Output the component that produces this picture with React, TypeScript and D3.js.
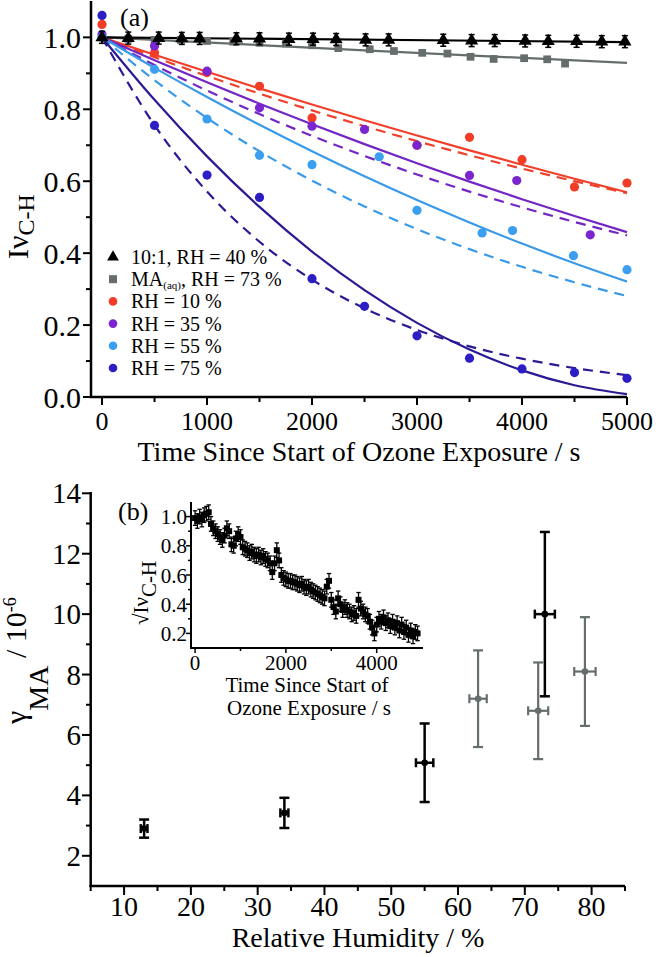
import React from 'react';
import * as d3 from 'd3';

const FONT = 'Liberation Serif, Times New Roman, DejaVu Serif, serif';

// ---------- Panel (a) data ----------
const fitT = [0, 500, 1000, 1500, 2000, 2500, 3000, 3500, 4000, 4500, 5000];
const redFit = [1, 0.9515, 0.9042, 0.8581, 0.8132, 0.7696, 0.7271, 0.6858, 0.6458, 0.6069, 0.5693];
const redFitDash = [1, 0.9448, 0.8927, 0.8435, 0.7969, 0.753, 0.7114, 0.6722, 0.6351, 0.6001, 0.567];
const purpleFit = [1, 0.9364, 0.875, 0.8156, 0.7583, 0.7031, 0.65, 0.5989, 0.55, 0.5031, 0.4583];
const purpleFitDash = [1, 0.9231, 0.8521, 0.7866, 0.7261, 0.6703, 0.6188, 0.5712, 0.5273, 0.4868, 0.4493];
const lblueFit = [1, 0.9152, 0.8341, 0.7568, 0.6833, 0.6135, 0.5475, 0.4852, 0.4267, 0.3719, 0.3209];
const lblueFitDash = [1, 0.8807, 0.7757, 0.6832, 0.6017, 0.5299, 0.4667, 0.4111, 0.362, 0.3189, 0.2808];
const dblueFit = [1, 0.8263, 0.6691, 0.5285, 0.4045, 0.297, 0.2061, 0.1318, 0.074, 0.0328, 0.0081];
const dblueFitDash = [1, 0.7558, 0.5712, 0.4317, 0.3263, 0.2466, 0.1864, 0.1409, 0.1065, 0.0805, 0.0608];
const grayFitT = [0, 2500, 5000];
const grayFit = [1, 0.964, 0.929];
const blackFitT = [0, 5000];
const blackFit = [1, 0.987];

const blackT = [0, 250, 540, 760, 930, 1280, 1500, 1780, 2010, 2230, 2510, 2730, 3250, 3520, 3740, 4030, 4250, 4520, 4760, 4980];
const blackV = [1.0, 0.998, 0.998, 0.997, 0.997, 0.996, 0.996, 0.995, 0.995, 0.994, 0.993, 0.993, 0.992, 0.991, 0.991, 0.99, 0.989, 0.989, 0.988, 0.988];
const grayT = [0, 250, 500, 750, 1000, 1250, 1500, 1750, 2000, 2250, 2550, 2780, 3050, 3290, 3510, 3730, 4020, 4240, 4410];
const grayV = [1.0, 0.996, 0.993, 0.993, 0.99, 0.988, 0.985, 0.983, 0.978, 0.97, 0.967, 0.962, 0.957, 0.955, 0.946, 0.94, 0.942, 0.939, 0.927];
const redT = [0, 500, 1000, 1500, 2000, 3000, 3500, 4000, 4500, 5000];
const redV = [1.036, 0.957, 0.902, 0.864, 0.776, 0.7, 0.722, 0.66, 0.584, 0.595];
const purpleT = [0, 500, 1000, 1500, 2000, 2500, 3000, 3500, 3950, 4650];
const purpleV = [1.008, 0.976, 0.906, 0.804, 0.753, 0.744, 0.7, 0.616, 0.602, 0.451];
const lblueT = [0, 500, 1000, 1500, 2000, 2640, 3000, 3620, 3910, 4490, 5000];
const lblueV = [1.0, 0.911, 0.773, 0.672, 0.646, 0.668, 0.519, 0.456, 0.463, 0.393, 0.354];
const dblueT = [0, 500, 1000, 1500, 2000, 2500, 3000, 3500, 4000, 4500, 5000];
const dblueV = [1.061, 0.755, 0.617, 0.555, 0.329, 0.252, 0.17, 0.108, 0.078, 0.068, 0.052];

const aXTicks = [0, 1000, 2000, 3000, 4000, 5000];
const aXMinor = [500, 1500, 2500, 3500, 4500];
const aYTicks = [0, 0.2, 0.4, 0.6, 0.8, 1.0];
const aYMinor = [0.1, 0.3, 0.5, 0.7, 0.9];

const legendLabels = ['10:1, RH = 40 %', 'MA(aq), RH = 73 %', 'RH = 10 %', 'RH = 35 %', 'RH = 55 %', 'RH = 75 %'];

// ---------- Panel (b) data ----------
const rhBlack = [13, 34, 55, 73];
const gammaBlack = [2.9, 3.42, 5.08, 10.0];
const gammaBlackErr = [0.3, 0.5, 1.3, 2.72];
const rhBlackErr = [0.5, 0.6, 1.3, 1.5];
const rhGray = [63, 72, 79];
const gammaGray = [7.2, 6.8, 8.1];
const gammaGrayErr = [1.6, 1.6, 1.8];
const rhGrayErr = [1.3, 1.5, 1.6];

const bXTicks = [10, 20, 30, 40, 50, 60, 70, 80];
const bXMinor = [5, 15, 25, 35, 45, 55, 65, 75, 85];
const bYTicks = [2, 4, 6, 8, 10, 12, 14];
const bYMinor = [3, 5, 7, 9, 11, 13];

// inset
const insetT = [0, 50, 100, 150, 200, 250, 300, 350, 400, 450, 500, 550, 600, 650, 700, 750, 800, 850, 900, 950,
  1000, 1050, 1100, 1150, 1200, 1250, 1300, 1350, 1400, 1450, 1500, 1550, 1600, 1650, 1700, 1750, 1800, 1850, 1900, 1950,
  2000, 2050, 2100, 2150, 2200, 2250, 2300, 2350, 2400, 2450, 2500, 2550, 2600, 2650, 2700, 2750, 2800, 2850, 2900, 2950,
  3000, 3050, 3100, 3150, 3200, 3250, 3300, 3350, 3400, 3450, 3500, 3550, 3600, 3650, 3700, 3750, 3800, 3850, 3900, 3950,
  4000, 4050, 4100, 4150, 4200, 4250, 4300, 4350, 4400, 4450, 4500, 4550, 4600, 4650, 4700, 4750, 4800, 4850, 4900];
const insetV = [0.99, 0.97, 1.0, 0.98, 1.01, 1.02, 1.03, 0.95, 0.92, 0.9, 0.88, 0.86, 0.84, 0.87, 0.92, 0.9, 0.81, 0.8, 0.85, 0.88,
  0.86, 0.79, 0.78, 0.77, 0.75, 0.76, 0.74, 0.73, 0.74, 0.72, 0.73, 0.71, 0.7, 0.68, 0.62, 0.68, 0.77, 0.7, 0.6, 0.58,
  0.57, 0.56, 0.56, 0.55, 0.55, 0.54, 0.53, 0.54, 0.52, 0.51, 0.52, 0.5, 0.49, 0.48, 0.47, 0.46, 0.45, 0.44, 0.52, 0.56,
  0.43, 0.38, 0.35, 0.44, 0.4, 0.36, 0.38, 0.36, 0.35, 0.33, 0.34, 0.32, 0.43, 0.37, 0.35, 0.33, 0.32, 0.28, 0.24, 0.2,
  0.26, 0.3, 0.28, 0.31, 0.27, 0.29, 0.25, 0.28, 0.24, 0.27, 0.22, 0.26, 0.21, 0.24, 0.19, 0.22, 0.18, 0.21, 0.2];
const insetErr = 0.05;
const iXTicks = [0, 2000, 4000];
const iXMinor = [1000, 3000];
const iYTicks = [0.2, 0.4, 0.6, 0.8, 1.0];
const iYMinor = [0.3, 0.5, 0.7, 0.9];

const C = {
  red: '#f23d26', redL: '#f0402a',
  purple: '#7b25d0', purpleL: '#7326c4',
  lblue: '#3a9ff0', lblueL: '#3a9ae8',
  dblue: '#2c1dc4', dblueL: '#2a1a94',
  gray: '#656d6d', black: '#000',
};

const fmt1 = (v: number) => v.toFixed(1);

export default function App() {
  // panel a scales
  const xA = d3.scaleLinear().domain([-105, 5000]).range([91, 627]);
  const yA = d3.scaleLinear().domain([0, 1.1]).range([397, 1.4]);
  const lineA = d3.line<number>().curve(d3.curveMonotoneX);
  const mkLine = (ts: number[], vs: number[]) =>
    lineA.x((_, i) => xA(ts[i])).y((v) => yA(v))(vs) || '';

  // panel b scales
  const xB = d3.scaleLinear().domain([5, 85]).range([90.7, 625]);
  const yB = d3.scaleLinear().domain([1, 14]).range([886, 493.3]);

  // inset scales
  const xI = d3.scaleLinear().domain([-90, 5020]).range([191, 423]);
  const yI = d3.scaleLinear().domain([0.1, 1.1]).range([648, 502]);

  const tri = d3.symbol().type(d3.symbolTriangle).size(75)() || '';
  const sq = d3.symbol().type(d3.symbolSquare).size(60)() || '';

  const fitLines: [number[], number[], string, boolean][] = [
    [fitT, redFit, C.redL, false], [fitT, redFitDash, C.redL, true],
    [fitT, purpleFit, C.purpleL, false], [fitT, purpleFitDash, C.purpleL, true],
    [fitT, lblueFit, C.lblueL, false], [fitT, lblueFitDash, C.lblueL, true],
    [fitT, dblueFit, C.dblueL, false], [fitT, dblueFitDash, C.dblueL, true],
    [grayFitT, grayFit, C.gray, false], [blackFitT, blackFit, C.black, false],
  ];
  const circleSeries: [number[], number[], string][] = [
    [redT, redV, C.red], [purpleT, purpleV, C.purple], [lblueT, lblueV, C.lblue], [dblueT, dblueV, C.dblue],
  ];

  const legendColors = [C.black, C.gray, C.red, C.purple, C.lblue, C.dblue];

  const errBar = (x: number, y: number, xe: number, ye: number, color: string, sw: number, key: string) => {
    const cx = xB(x), cy = yB(y);
    const y1 = yB(y + ye), y2 = yB(y - ye);
    const x1 = xB(x - xe), x2 = xB(x + xe);
    return (
      <g key={key} stroke={color} strokeWidth={sw} fill={color}>
        <line x1={cx} x2={cx} y1={y1} y2={y2} />
        <line x1={cx - 5} x2={cx + 5} y1={y1} y2={y1} />
        <line x1={cx - 5} x2={cx + 5} y1={y2} y2={y2} />
        <line x1={x1} x2={x2} y1={cy} y2={cy} />
        <line x1={x1} x2={x1} y1={cy - 4.5} y2={cy + 4.5} />
        <line x1={x2} x2={x2} y1={cy - 4.5} y2={cy + 4.5} />
        <circle cx={cx} cy={cy} r={3.3} stroke="none" />
      </g>
    );
  };

  return (
    <svg width={661} height={957} style={{ position: 'absolute', left: 0, top: 0, background: '#fff', fontFamily: FONT }}>
      <rect width={661} height={957} fill="#fff" />
      {/* ===== Panel (a) ===== */}
      <g>
        {fitLines.map(([ts, vs, col, dash], i) => (
          <path key={'fl' + i} d={mkLine(ts, vs)} fill="none" stroke={col} strokeWidth={2.2}
            strokeDasharray={dash ? '10,7' : undefined} />
        ))}
        {grayT.map((t, i) => (
          <path key={'gs' + i} d={sq} transform={`translate(${xA(t)},${yA(grayV[i])})`} fill={C.gray} />
        ))}
        {circleSeries.map(([ts, vs, col], s) =>
          ts.map((t, i) => (
            <circle key={`c${s}-${i}`} cx={xA(t)} cy={yA(vs[i])} r={4.6} fill={col} />
          ))
        )}
        {blackT.map((t, i) => (
          <g key={'bt' + i} transform={`translate(${xA(t)},${yA(blackV[i])})`}>
            <line y1={-6} y2={6} stroke="#000" strokeWidth={2} />
            <line x1={-3} x2={3} y1={-6} y2={-6} stroke="#000" strokeWidth={1.5} />
            <line x1={-3} x2={3} y1={6} y2={6} stroke="#000" strokeWidth={1.5} />
            <path d={tri} fill="#000" />
          </g>
        ))}
        {/* axes */}
        <line x1={91} x2={91} y1={1} y2={398} stroke="#000" strokeWidth={2.5} />
        <line x1={90} x2={627} y1={397} y2={397} stroke="#000" strokeWidth={2.5} />
        {aYTicks.map((v) => (
          <g key={'ay' + v}>
            <line x1={83} x2={91} y1={yA(v)} y2={yA(v)} stroke="#000" strokeWidth={2} />
            <text x={81} y={yA(v) + 10.5} fontSize={30} textAnchor="end">{fmt1(v)}</text>
          </g>
        ))}
        {aYMinor.map((v) => (
          <line key={'aym' + v} x1={86} x2={91} y1={yA(v)} y2={yA(v)} stroke="#000" strokeWidth={2} />
        ))}
        {aXTicks.map((v) => (
          <g key={'ax' + v}>
            <line x1={xA(v)} x2={xA(v)} y1={397} y2={405} stroke="#000" strokeWidth={2} />
            <text x={xA(v)} y={430} fontSize={26} textAnchor="middle">{v}</text>
          </g>
        ))}
        {aXMinor.map((v) => (
          <line key={'axm' + v} x1={xA(v)} x2={xA(v)} y1={397} y2={402} stroke="#000" strokeWidth={2} />
        ))}
        <text x={359} y={461} fontSize={28} textAnchor="middle">Time Since Start of Ozone Exposure / s</text>
        <text transform="translate(28,259) rotate(-90)" fontSize={30}>
          Iν<tspan fontSize={24} dy={6}>C-H</tspan>
        </text>
        <text x={120} y={26} fontSize={26}>(a)</text>
        {/* legend */}
        {legendLabels.map((lab, i) => {
          const cy = 257 + i * 22.2;
          const col = legendColors[i];
          let sym;
          if (i === 0) sym = <path d={d3.symbol().type(d3.symbolTriangle).size(60)() || ''} transform={`translate(113,${cy})`} fill={col} />;
          else if (i === 1) sym = <rect x={109} y={cy - 4} width={8} height={8} fill={col} />;
          else sym = <circle cx={113} cy={cy} r={4.3} fill={col} />;
          return (
            <g key={'lg' + i}>
              {sym}
              {i === 1 ? (
                <text x={131} y={cy + 7} fontSize={20}>
                  MA<tspan fontSize={11} dy={3}>(aq)</tspan><tspan dy={-3}>, RH = 73 %</tspan>
                </text>
              ) : (
                <text x={131} y={cy + 7} fontSize={20}>{lab}</text>
              )}
            </g>
          );
        })}
      </g>

      {/* ===== Panel (b) ===== */}
      <g>
        <line x1={90.7} x2={90.7} y1={492} y2={887} stroke="#000" strokeWidth={2.5} />
        <line x1={89.5} x2={625} y1={886} y2={886} stroke="#000" strokeWidth={2.5} />
        {bYTicks.map((v) => (
          <g key={'by' + v}>
            <line x1={82} x2={91} y1={yB(v)} y2={yB(v)} stroke="#000" strokeWidth={2} />
            <text x={81} y={yB(v) + 10} fontSize={29} textAnchor="end">{v}</text>
          </g>
        ))}
        {bYMinor.map((v) => (
          <line key={'bym' + v} x1={86} x2={91} y1={yB(v)} y2={yB(v)} stroke="#000" strokeWidth={2} />
        ))}
        {bXTicks.map((v) => (
          <g key={'bx' + v}>
            <line x1={xB(v)} x2={xB(v)} y1={886} y2={895} stroke="#000" strokeWidth={2} />
            <text x={xB(v)} y={916} fontSize={28} textAnchor="middle">{v}</text>
          </g>
        ))}
        {bXMinor.map((v) => (
          <line key={'bxm' + v} x1={xB(v)} x2={xB(v)} y1={886} y2={891} stroke="#000" strokeWidth={2} />
        ))}
        <text x={358} y={947} fontSize={28} textAnchor="middle">Relative Humidity / %</text>
        <text transform="translate(25.5,724) rotate(-90)" fontSize={30}>
          γ<tspan fontSize={28} dy={22}>MA</tspan><tspan fontSize={30} dy={-22}> / 10</tspan><tspan fontSize={18} dy={-10}>-6</tspan>
        </text>
        <text x={118} y={520} fontSize={26}>(b)</text>
        {rhGray.map((x, i) => errBar(x, gammaGray[i], rhGrayErr[i], gammaGrayErr[i], C.gray, 2.2, 'gb' + i))}
        {rhBlack.map((x, i) => errBar(x, gammaBlack[i], rhBlackErr[i], gammaBlackErr[i], '#000', 2.5, 'bb' + i))}

        {/* inset */}
        <g>
          {insetT.map((t, i) => {
            const cx = xI(t), cy = yI(insetV[i]);
            const y1 = yI(insetV[i] + insetErr), y2 = yI(insetV[i] - insetErr);
            return (
              <g key={'in' + i} stroke="#000" strokeWidth={1.3}>
                <line x1={cx} x2={cx} y1={y1} y2={y2} />
                <line x1={cx - 2.2} x2={cx + 2.2} y1={y1} y2={y1} />
                <line x1={cx - 2.2} x2={cx + 2.2} y1={y2} y2={y2} />
                <rect x={cx - 3} y={cy - 3} width={6} height={6} fill="#000" stroke="none" />
              </g>
            );
          })}
          <line x1={191} x2={191} y1={502} y2={649} stroke="#000" strokeWidth={2} />
          <line x1={190} x2={423} y1={648} y2={648} stroke="#000" strokeWidth={2} />
          {iYTicks.map((v) => (
            <g key={'iy' + v}>
              <line x1={186} x2={191} y1={yI(v)} y2={yI(v)} stroke="#000" strokeWidth={1.5} />
              <text x={187} y={yI(v) + 7.5} fontSize={21} textAnchor="end">{fmt1(v)}</text>
            </g>
          ))}
          {iYMinor.map((v) => (
            <line key={'iym' + v} x1={188} x2={191} y1={yI(v)} y2={yI(v)} stroke="#000" strokeWidth={1.5} />
          ))}
          {iXTicks.map((v) => (
            <g key={'ix' + v}>
              <line x1={xI(v)} x2={xI(v)} y1={648} y2={653} stroke="#000" strokeWidth={1.5} />
              <text x={xI(v)} y={670} fontSize={21} textAnchor="middle">{v}</text>
            </g>
          ))}
          {iXMinor.map((v) => (
            <line key={'ixm' + v} x1={xI(v)} x2={xI(v)} y1={648} y2={651} stroke="#000" strokeWidth={1.5} />
          ))}
          <text x={307} y={692} fontSize={21} textAnchor="middle">Time Since Start of</text>
          <text x={309} y={715} fontSize={21} textAnchor="middle">Ozone Exposure  / s</text>
          <text transform="translate(148,625) rotate(-90)" fontSize={21}>
            √Iν<tspan dy={8}>C-H</tspan>
          </text>
        </g>
      </g>
    </svg>
  );
}
